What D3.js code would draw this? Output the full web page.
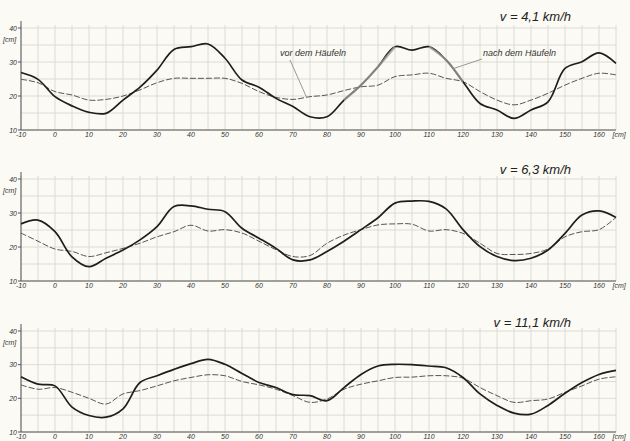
<!DOCTYPE html>
<html>
<head>
<meta charset="utf-8">
<script src="https://d3js.org/d3.v7.min.js"></script>
<style>
  body { margin: 0; background: #fbfaf4; }
  svg { display: block; font-family: "Liberation Sans", Arial, sans-serif; }
  .tick-label { font-size: 7px; font-style: italic; fill: #333; }
  .title { font-size: 13px; font-style: italic; fill: #222; }
  .note { font-size: 9px; font-style: italic; fill: #333; }
</style>
</head>
<body>
<svg id="chart" width="630" height="441"></svg>
<script>
// distance along the row, cm
const xs = [-10, -5, 0, 5, 10, 15, 20, 25, 30, 35, 40, 45, 50, 55, 60, 65, 70, 75,
            80, 85, 90, 95, 100, 105, 110, 115, 120, 125, 130, 135, 140, 145, 150, 155, 160, 165];
const xTicks = [-10, 0, 10, 20, 30, 40, 50, 60, 70, 80, 90, 100, 110, 120, 130, 140, 150, 160];
const yTicks = [10, 20, 30, 40];
const titles = ["v = 4,1 km/h", "v = 6,3 km/h", "v = 11,1 km/h"];

// nach dem Häufeln (solid)
const after41 = [26.9, 24.9, 19.8, 17.1, 15.2, 14.9, 18.8, 22.6, 27.6, 33.7, 34.5, 35.3, 31.1, 24.7, 22.6, 19.3, 16.9, 13.9,
                 13.9, 18.8, 23.2, 28.6, 34.5, 33.5, 34.5, 30.6, 24.2, 17.8, 15.9, 13.4, 15.9, 18.3, 28.1, 30.1, 32.7, 29.6];
const after63 = [26.8, 27.9, 24.5, 17.1, 14.2, 16.7, 19.1, 22.1, 26.0, 31.9, 32.1, 31.1, 30.4, 25.5, 22.6, 19.6, 16.2, 16.2,
                 18.7, 21.7, 25.1, 28.6, 32.9, 33.5, 33.4, 31.2, 25.1, 20.1, 17.2, 16.0, 16.7, 19.1, 24.0, 29.4, 30.6, 28.7];
const after111 = [26.4, 24.2, 23.7, 17.4, 14.9, 14.4, 16.9, 24.7, 26.7, 28.6, 30.3, 31.6, 30.1, 27.4, 24.7, 23.2, 21.1, 20.8,
                  19.3, 23.2, 27.1, 29.6, 30.1, 30.0, 29.6, 29.1, 26.2, 21.3, 17.9, 15.6, 15.3, 17.9, 21.5, 24.7, 27.1, 28.3];

// vor dem Häufeln (dashed)
const before41 = [24.9, 23.9, 21.3, 20.3, 18.8, 19.0, 20.0, 21.8, 23.9, 25.2, 25.2, 25.2, 25.2, 23.7, 21.3, 19.6, 19.0, 19.8,
                  20.3, 21.6, 22.7, 23.2, 25.7, 26.2, 26.7, 25.2, 24.2, 21.3, 18.8, 17.4, 18.8, 20.8, 23.2, 25.2, 26.7, 26.2];
const before63 = [24.1, 21.7, 19.4, 18.7, 17.2, 18.3, 19.6, 21.1, 23.0, 24.5, 26.4, 24.7, 25.1, 24.1, 21.7, 19.2, 17.2, 17.5,
                  21.1, 23.5, 25.1, 26.5, 26.8, 26.7, 24.7, 25.1, 24.0, 21.1, 18.1, 17.8, 18.1, 19.4, 23.0, 24.5, 25.1, 28.7];
const before111 = [24.0, 22.7, 23.2, 21.8, 20.0, 18.3, 21.3, 22.3, 23.7, 25.2, 26.2, 27.0, 26.7, 25.0, 24.0, 22.7, 20.8, 18.8,
                   19.8, 22.7, 24.2, 25.2, 26.2, 26.3, 26.7, 26.7, 26.0, 23.2, 20.8, 18.8, 19.3, 19.8, 21.8, 23.7, 25.7, 26.4];

const panels = [
  { title: titles[0], after: after41, before: before41, top: 28, bottom: 130, titleY: 21 },
  { title: titles[1], after: after63, before: before63, top: 179, bottom: 281, titleY: 174 },
  { title: titles[2], after: after111, before: before111, top: 331, bottom: 432, titleY: 327 }
];

const svg = d3.select('#chart');
const x = d3.scaleLinear().domain([-10, 165]).range([21, 616]);
const gridX = d3.range(-10, 166, 5);
const gridY = d3.range(10, 41, 5);

panels.forEach((p, i) => {
  const y = d3.scaleLinear().domain([10, 40]).range([p.bottom, p.top]);
  const g = svg.append('g');

  // grid
  g.selectAll('.gx').data(gridX).enter().append('line')
    .attr('x1', d => x(d)).attr('x2', d => x(d))
    .attr('y1', y(40) - 3).attr('y2', y(10))
    .attr('stroke', '#d6d6d2').attr('stroke-width', 0.8);
  g.selectAll('.gy').data(gridY).enter().append('line')
    .attr('x1', x(-10)).attr('x2', x(165))
    .attr('y1', d => y(d)).attr('y2', d => y(d))
    .attr('stroke', '#d6d6d2').attr('stroke-width', 0.8);

  // axes
  g.append('line').attr('x1', x(-10)).attr('x2', x(-10))
    .attr('y1', y(40) - 7).attr('y2', y(10))
    .attr('stroke', '#555').attr('stroke-width', 1);
  g.append('line').attr('x1', x(-10)).attr('x2', x(165))
    .attr('y1', y(10)).attr('y2', y(10))
    .attr('stroke', '#555').attr('stroke-width', 1);

  g.selectAll('.yt').data(yTicks).enter().append('line')
    .attr('x1', x(-10) - 3).attr('x2', x(-10))
    .attr('y1', d => y(d)).attr('y2', d => y(d))
    .attr('stroke', '#555');
  g.selectAll('.yl').data(yTicks).enter().append('text')
    .attr('class', 'tick-label')
    .attr('x', x(-10) - 4).attr('y', d => y(d) + 2.5)
    .attr('text-anchor', 'end')
    .text(d => d);
  g.append('text').attr('class', 'tick-label')
    .attr('x', 3).attr('y', y(36.5) + 2.5).text('[cm]');

  g.selectAll('.xl').data(xTicks).enter().append('text')
    .attr('class', 'tick-label')
    .attr('x', d => x(d)).attr('y', y(10) + 6.5)
    .attr('text-anchor', 'middle')
    .text(d => d);
  g.append('text').attr('class', 'tick-label')
    .attr('x', x(164)).attr('y', y(10) + 6.5).text('[cm]');

  const line = d3.line()
    .x((d, j) => x(xs[j]))
    .y(d => y(d))
    .curve(d3.curveCatmullRom.alpha(0.5));

  g.append('path').datum(p.before)
    .attr('d', line)
    .attr('fill', 'none')
    .attr('stroke', '#444')
    .attr('stroke-width', 0.9)
    .attr('stroke-dasharray', '6,2');
  g.append('path').datum(p.after)
    .attr('d', line)
    .attr('fill', 'none')
    .attr('stroke', '#1e1e1e')
    .attr('stroke-width', 1.7);

  g.append('text').attr('class', 'title')
    .attr('x', 571).attr('y', p.titleY)
    .attr('text-anchor', 'end')
    .text(p.title);

  if (i === 0) {
    // grey pointer strokes laid over the solid curve
    const hl = d3.line()
      .x(d => x(d[0])).y(d => y(d[1]))
      .curve(d3.curveCatmullRom.alpha(0.5));
    const seg1 = xs.map((v, j) => [v, p.after[j]]).filter(d => d[0] >= 85 && d[0] <= 100);
    const seg2 = xs.map((v, j) => [v, p.after[j]]).filter(d => d[0] >= 110 && d[0] <= 120);
    [seg1, seg2].forEach(s => {
      g.append('path').datum(s).attr('d', hl).attr('fill', 'none')
        .attr('stroke', '#9a9a9a').attr('stroke-width', 2.2).attr('opacity', 0.8);
    });
    g.append('line').attr('x1', 290).attr('y1', 60).attr('x2', x(74)).attr('y2', y(19.6))
      .attr('stroke', '#999').attr('stroke-width', 1);
    g.append('text').attr('class', 'note').attr('x', 280).attr('y', 56).text('vor dem Häufeln');
    g.append('line').attr('x1', 482).attr('y1', 59).attr('x2', x(117)).attr('y2', y(28))
      .attr('stroke', '#999').attr('stroke-width', 1);
    g.append('text').attr('class', 'note').attr('x', 483).attr('y', 56).text('nach dem Häufeln');
  }
});
</script>
</body>
</html>
